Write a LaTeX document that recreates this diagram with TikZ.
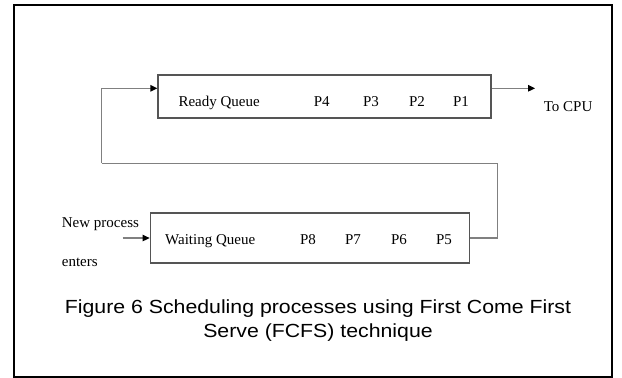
\documentclass[tikz,border=0pt]{standalone}
\usepackage{fontspec}
\setmainfont{Liberation Serif}
\newfontfamily\capfont[FakeStretch=1.12]{Liberation Sans}
\usetikzlibrary{arrows.meta}
\definecolor{boxgray}{HTML}{555555}
\definecolor{linegray}{HTML}{808080}
\tikzset{
  qbox/.style={draw=boxgray, line width=1.2pt, rectangle, inner sep=0pt},
  conn/.style={draw=linegray, line width=1.3pt},
  arr/.style={conn, -{Triangle[length=7pt,width=6.5pt,fill=black,color=black]}},
  lbl/.style={inner sep=0pt, anchor=base, font=\fontsize{15}{18}\selectfont},
  lblw/.style={lbl, anchor=base west},
  captext/.style={inner sep=0pt, anchor=base, font=\capfont\fontsize{19}{23}\selectfont}
}
\begin{document}
\begin{tikzpicture}[x=1pt,y=-1pt]
\useasboundingbox (0,0) rectangle (622,378);
\draw[line width=2pt] (14,4.5) rectangle (612,376.5);
% boxes
\node[qbox, minimum width=333pt, minimum height=43pt] (ready) at (324.5,96.5) {};
\node[qbox, minimum width=319pt, minimum height=50pt] (wait) at (309.7,238) {};
% ready row
\node[lblw] (rq) at (178.3,106.7) {Ready Queue};
\node[lbl] (p4) at (321.7,106.7) {P4};
\node[lbl] (p3) at (371,106.7) {P3};
\node[lbl] (p2) at (417,106.7) {P2};
\node[lbl] (p1) at (461,106.7) {P1};
% waiting row
\node[lblw] (wq) at (165,244.7) {Waiting Queue};
\node[lbl] (p8) at (308,244.7) {P8};
\node[lbl] (p7) at (353,244.7) {P7};
\node[lbl] (p6) at (399,244.7) {P6};
\node[lbl] (p5) at (444,244.7) {P5};
% side labels
\node[lblw] (cpu) at (543.6,111.7) {To CPU};
\node[lblw] (newp) at (61.7,227.7) {New process};
\node[lblw] (ent) at (61.7,266.5) {enters};
% coordinates
\coordinate (c1) at (497.7,163.3);
\coordinate (c2) at (101.7,163.3);
\coordinate (cpuend) at (535,88.3);
\coordinate (newstart) at (122.7,238);
% connectors
\draw[conn] (wait.east) -| (c1) -- (c2);
\draw[arr] (c2) |- ([yshift=8.2pt]ready.west);
\draw[arr] ([yshift=8.2pt]ready.east) -- (cpuend);
\draw[arr] (newstart) -- (wait.west);
% caption
\node[captext] (cap1) at (318,313.3) {Figure 6 Scheduling processes using First Come First};
\node[captext] (cap2) at (318,337.5) {Serve (FCFS) technique};
\end{tikzpicture}
\end{document}
